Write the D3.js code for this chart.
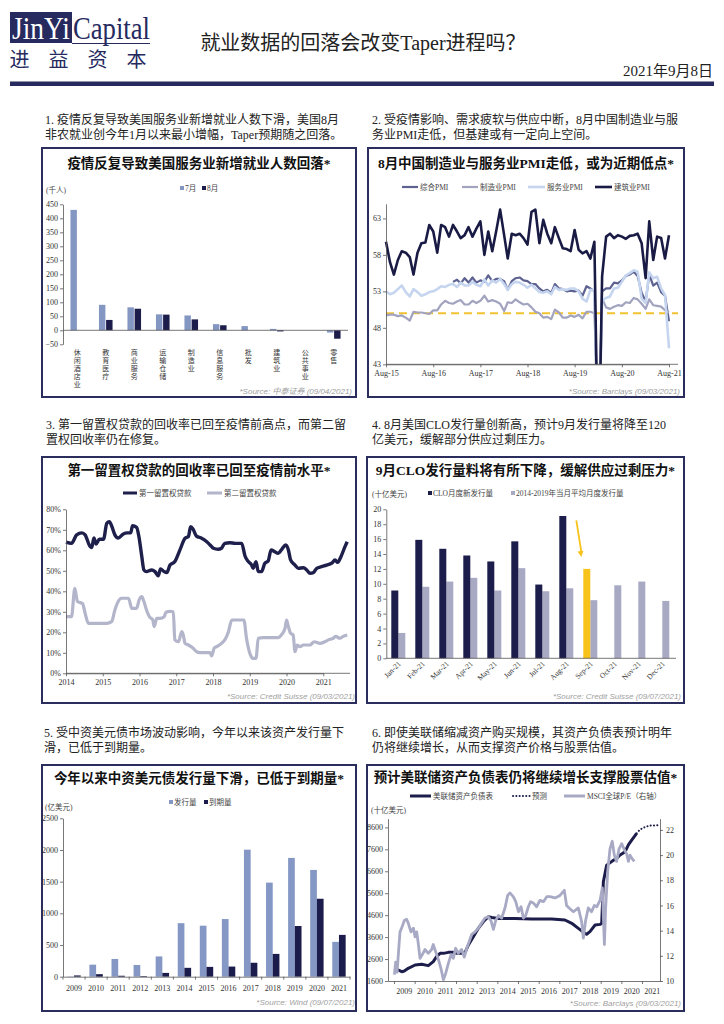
<!DOCTYPE html>
<html>
<head>
<meta charset="utf-8">
<script src="https://cdn.jsdelivr.net/npm/d3@7"></script>
<style>
  body { margin: 0; background: #fff; }
</style>
</head>
<body>
<svg id="page" width="724" height="1024"></svg>
<script>
// ---------- data ----------
// chart 1: US service jobs (thousands)
const jobCats = ['休闲酒店业', '教育医疗', '商业服务', '运输仓储', '制造业', '信息服务', '批发', '建筑业', '公共事业', '零售'];
const jobsJul = [430, 91, 82, 57, 53, 22, 15, 5, 0, -8];
const jobsAug = [0, 37, 77, 56, 39, 18, 0, -4, 0, -30];
const jobTicks = [-50, 0, 50, 100, 150, 200, 250, 300, 350, 400, 450];

// chart 2: China PMI, monthly from Aug-15 to Aug-21
const pmiComposite = [null, null, null, null, null, null, null, null, null, null, null, null, null, null, null, null, null,
  54.3, 54.6, 54.1, 54.8, 54.2, 54.9, 54.2, 54.5, 54.3, 55.2, 54.4, 54.7,
  54.7, 54.4, 53.2, 54.4, 54.8, 54.9, 54.5, 54.4, 54.0, 54.0, 53.4, 53.0,
  53.2, 52.8, 54.0, 53.4, 53.3, 53.0, 53.1, 53.0, 53.1, 52.4, 53.7, 53.4,
  53.0, 28.9, 53.0, 53.4, 53.4, 54.2, 54.1, 54.5, 55.1, 55.3, 55.7, 55.1,
  52.8, 51.6, 55.3, 53.8, 54.2, 52.9, 52.4, 48.9];
const pmiMfg = [49.7, 49.8, 49.8, 49.6, 49.7,
  49.4, 49.0, 50.2, 50.1, 50.1, 50.0, 49.9, 50.4, 50.4, 51.2, 51.7, 51.4,
  51.3, 51.6, 51.8, 51.2, 51.2, 51.7, 51.4, 51.7, 52.4, 51.6, 51.8, 51.6,
  51.3, 50.3, 51.5, 51.4, 51.9, 51.5, 51.2, 51.3, 50.8, 50.2, 50.0, 49.4,
  49.5, 49.2, 50.5, 50.1, 49.4, 49.4, 49.7, 49.5, 49.8, 49.3, 50.2, 50.2,
  50.0, 35.7, 52.0, 50.8, 50.6, 50.9, 51.1, 51.0, 51.5, 51.4, 52.1, 51.9,
  51.3, 50.6, 51.9, 51.1, 51.0, 50.9, 50.4, 50.1];
const pmiServices = [53.0, 52.6, 52.8, 53.3, 53.8,
  52.9, 52.3, 53.3, 52.9, 52.4, 52.6, 52.9, 53.0, 53.3, 53.7, 53.6, 53.9,
  54.0, 53.6, 54.2, 53.8, 53.8, 54.3, 53.9, 53.7, 54.6, 53.8, 54.5, 54.2,
  54.7, 54.0, 53.2, 54.0, 54.3, 54.2, 53.9, 53.5, 53.9, 53.4, 52.9, 52.8,
  53.0, 52.6, 53.6, 53.2, 53.3, 53.2, 53.4, 53.4, 53.0, 52.0, 51.6, 53.2,
  53.1, 29.6, 51.8, 52.1, 52.3, 53.4, 53.5, 54.3, 55.2, 55.5, 55.9, 55.7,
  52.0, 51.4, 55.6, 54.8, 55.0, 53.4, 52.5, 45.2];
const pmiConstruction = [59.8, 57.0, 55.3, 57.3, 58.5,
  58.3, 57.7, 55.3, 58.3, 59.6, 59.7, 62.1, 61.2, 58.3, 62.1, 61.8, 60.5,
  62.1, 61.2, 60.3, 60.7, 61.8, 60.5, 61.6, 62.6, 58.0, 61.2, 58.5, 61.2,
  64.2, 60.7, 57.5, 60.9, 60.7, 60.9, 60.3, 59.4, 63.9, 64.2, 59.6, 62.8,
  60.9, 59.6, 61.8, 60.3, 58.9, 58.8, 58.5, 61.4, 58.7, 58.2, 58.5, 57.5,
  59.8, 26.6, 55.1, 60.5, 60.9, 60.3, 60.7, 60.5, 60.2, 60.6, 60.7, 60.9,
  59.6, 54.8, 62.6, 57.3, 60.5, 60.3, 57.5, 60.7];
const pmiTicks = [43, 48, 53, 58, 63];

// chart 3: recovery rates (%), [year, value]
const firstLien = [[2014.00, 64.0], [2014.15, 63.4], [2014.29, 67.5], [2014.43, 68.5], [2014.52, 67.5], [2014.65, 62.0],
  [2014.70, 61.3], [2014.76, 66.0], [2014.82, 63.1], [2014.91, 65.4], [2015.02, 65.4], [2015.11, 73.2], [2015.18, 74.0],
  [2015.24, 72.0], [2015.33, 67.5], [2015.42, 66.0], [2015.56, 68.0], [2015.67, 68.5], [2015.76, 68.5], [2015.81, 72.0],
  [2015.92, 71.2], [2015.99, 66.0], [2016.06, 57.2], [2016.12, 50.4], [2016.19, 49.6], [2016.33, 50.4], [2016.42, 49.6],
  [2016.51, 47.6], [2016.57, 50.9], [2016.67, 49.6], [2016.74, 49.1], [2016.83, 52.8], [2016.96, 54.5], [2017.10, 60.2],
  [2017.24, 65.9], [2017.33, 66.7], [2017.39, 71.5], [2017.46, 70.2], [2017.55, 66.9], [2017.69, 65.9], [2017.83, 64.2],
  [2017.92, 62.6], [2018.01, 61.0], [2018.14, 60.5], [2018.23, 61.0], [2018.32, 63.4], [2018.46, 63.7], [2018.60, 63.4],
  [2018.78, 63.4], [2018.87, 57.2], [2018.96, 54.5], [2019.05, 52.8], [2019.09, 51.2], [2019.17, 54.5], [2019.23, 49.6],
  [2019.32, 49.6], [2019.41, 53.7], [2019.50, 54.8], [2019.58, 60.2], [2019.68, 59.3], [2019.77, 58.5], [2019.87, 60.5],
  [2019.98, 62.6], [2020.05, 60.2], [2020.11, 55.3], [2020.23, 52.8], [2020.32, 51.2], [2020.46, 51.5], [2020.55, 50.4],
  [2020.64, 48.8], [2020.73, 49.1], [2020.82, 51.2], [2020.95, 52.0], [2021.09, 52.8], [2021.23, 53.7], [2021.32, 55.3],
  [2021.39, 54.1], [2021.48, 56.9], [2021.59, 61.8], [2021.65, 64.2]];
const secondLien = [[2014.00, 27.6], [2014.15, 27.6], [2014.24, 41.5], [2014.31, 35.0], [2014.38, 34.5], [2014.45, 34.0],
  [2014.52, 29.3], [2014.61, 24.4], [2015.11, 24.4], [2015.24, 25.2], [2015.33, 30.9], [2015.42, 35.0], [2015.51, 36.6],
  [2015.70, 36.6], [2015.79, 31.7], [2015.92, 31.7], [2015.99, 35.8], [2016.06, 37.4], [2016.12, 35.0], [2016.19, 30.9],
  [2016.27, 27.6], [2016.36, 26.0], [2016.40, 22.8], [2016.47, 26.8], [2016.56, 26.8], [2016.67, 27.6], [2016.72, 29.8],
  [2016.83, 30.2], [2016.92, 30.0], [2016.96, 16.3], [2017.06, 15.4], [2017.15, 20.3], [2017.19, 18.7], [2017.24, 14.6],
  [2017.33, 13.8], [2017.46, 12.2], [2017.55, 10.6], [2017.64, 10.1], [2017.92, 10.1], [2017.96, 8.5], [2018.03, 12.2],
  [2018.10, 13.0], [2018.23, 14.6], [2018.32, 16.3], [2018.42, 20.3], [2018.51, 26.0], [2018.84, 26.0], [2018.91, 17.1],
  [2019.02, 8.9], [2019.08, 7.3], [2019.17, 7.3], [2019.23, 17.1], [2019.37, 17.4], [2019.77, 17.4], [2019.87, 19.0],
  [2019.96, 22.0], [2020.00, 26.0], [2020.05, 22.8], [2020.11, 19.5], [2020.18, 18.7], [2020.23, 10.6], [2020.29, 13.8],
  [2020.36, 13.0], [2020.46, 13.8], [2020.64, 13.8], [2020.75, 15.4], [2020.91, 14.6], [2021.04, 15.4], [2021.14, 16.3],
  [2021.27, 17.1], [2021.34, 18.0], [2021.45, 17.1], [2021.54, 18.0], [2021.65, 18.7]];
const lienYears = [2014, 2015, 2016, 2017, 2018, 2019, 2020, 2021];

// chart 4: CLO issuance (USD bn)
const cloMonths = ['Jan-21', 'Feb-21', 'Mar-21', 'Apr-21', 'May-21', 'Jun-21', 'Jul-21', 'Aug-21', 'Sep-21', 'Oct-21', 'Nov-21', 'Dec-21'];
const cloIssued = [9.1, 15.9, 14.7, 13.8, 13.0, 15.7, 9.9, 19.1, 12.0, null, null, null];
const cloAvg = [3.4, 9.6, 10.3, 10.8, 9.1, 12.1, 9.0, 9.4, 7.8, 9.8, 10.3, 7.7];
const cloForecastMonth = 'Sep-21';

// chart 5: Chinese USD bonds (USD 100m)
const bondYears = ['2009', '2010', '2011', '2012', '2013', '2014', '2015', '2016', '2017', '2018', '2019', '2020', '2021'];
const bondIssue = [5, 190, 280, 185, 320, 845, 805, 910, 2005, 1485, 1875, 1685, 550];
const bondMature = [20, 40, 15, 10, 60, 140, 155, 160, 220, 360, 800, 1230, 660];

// chart 6: Fed balance sheet (USD bn) and MSCI world P/E, [year, value]
const fedBS = [[2009.05, 2177], [2009.21, 2100], [2009.37, 2025], [2009.50, 2055], [2009.69, 2177], [2010.02, 2330],
  [2010.34, 2360], [2010.66, 2300], [2010.90, 2480], [2011.06, 2710], [2011.23, 2860], [2011.39, 2860], [2011.63, 2905],
  [2011.87, 2905], [2012.03, 2860], [2012.27, 2860], [2012.44, 2905], [2012.60, 3240], [2012.84, 3620], [2013.08, 4000],
  [2013.32, 4300], [2013.56, 4530], [2013.73, 4490], [2014.05, 4450], [2014.85, 4450], [2015.66, 4420], [2016.63, 4420],
  [2017.27, 4380], [2017.60, 4230], [2017.92, 4000], [2018.24, 3770], [2018.32, 3730], [2018.48, 3850], [2018.73, 4150],
  [2018.97, 4180], [2019.05, 4230], [2019.13, 6120], [2019.29, 6880], [2019.53, 7040], [2019.77, 7190], [2019.94, 7340],
  [2020.18, 7490], [2020.34, 7800], [2020.50, 8020], [2020.66, 8220], [2020.74, 8330]];
const fedForecast = [[2020.74, 8330], [2020.90, 8500], [2021.15, 8620], [2021.39, 8680], [2021.87, 8700]];
const msciPE = [[2009.02, 10.5], [2009.08, 11.5], [2009.15, 10.7], [2009.21, 12.1], [2009.29, 13.9], [2009.37, 14.2],
  [2009.50, 14.8], [2009.61, 14.9], [2009.69, 14.6], [2009.82, 13.9], [2009.94, 14.2], [2010.02, 13.5], [2010.10, 13.9],
  [2010.18, 12.9], [2010.26, 11.8], [2010.37, 12.1], [2010.50, 12.5], [2010.66, 12.2], [2010.82, 12.5], [2010.90, 12.9],
  [2011.02, 12.3], [2011.15, 11.7], [2011.27, 11.0], [2011.39, 10.1], [2011.50, 10.6], [2011.63, 11.4], [2011.76, 12.1],
  [2011.87, 11.8], [2011.98, 12.6], [2012.11, 12.2], [2012.27, 12.5], [2012.40, 11.9], [2012.52, 12.6], [2012.63, 13.1],
  [2012.76, 13.7], [2012.92, 13.9], [2013.08, 14.2], [2013.24, 14.6], [2013.40, 15.0], [2013.56, 15.1], [2013.69, 14.8],
  [2013.81, 14.1], [2013.92, 14.8], [2014.05, 15.2], [2014.21, 15.0], [2014.37, 15.8], [2014.50, 16.8], [2014.61, 17.0],
  [2014.77, 16.7], [2014.89, 16.3], [2015.02, 15.5], [2015.15, 15.9], [2015.26, 15.0], [2015.37, 15.2], [2015.50, 15.9],
  [2015.61, 16.3], [2015.74, 16.2], [2015.90, 15.9], [2016.06, 16.4], [2016.23, 16.3], [2016.39, 16.7], [2016.55, 16.7],
  [2016.79, 16.6], [2017.03, 16.8], [2017.24, 17.2], [2017.35, 16.0], [2017.47, 15.8], [2017.68, 15.5], [2017.92, 15.8],
  [2018.08, 14.7], [2018.16, 13.4], [2018.27, 14.8], [2018.40, 15.8], [2018.56, 15.5], [2018.69, 16.0], [2018.81, 15.9],
  [2018.97, 16.4], [2019.08, 17.4], [2019.18, 12.9], [2019.24, 15.8], [2019.34, 18.7], [2019.45, 20.5], [2019.56, 21.1],
  [2019.66, 20.0], [2019.77, 19.5], [2019.89, 20.5], [2020.02, 20.9], [2020.15, 20.4], [2020.26, 20.1], [2020.34, 19.5],
  [2020.42, 20.0], [2020.53, 19.7], [2020.63, 19.5]];
const fedTicks = [1600, 2600, 3600, 4600, 5600, 6600, 7600, 8600];
const peTicks = [10, 12, 14, 16, 18, 20, 22];
const fedYears = d3.range(2009, 2022);

// ---------- drawing ----------
const SERIF = '"Liberation Serif","Noto Sans CJK SC",serif';
const SANS = '"Liberation Sans","Noto Sans CJK SC",sans-serif';
const NAVY = '#262a5f';
const svg = d3.select('#page');
const plain = d3.format('d');

function label(x, y, s, size, opt = {}) {
  return svg.append('text')
    .attr('x', x).attr('y', y)
    .attr('font-size', size)
    .attr('dominant-baseline', 'central')
    .attr('text-anchor', opt.anchor || 'start')
    .attr('fill', opt.fill || '#222')
    .attr('font-weight', opt.weight || 400)
    .attr('font-style', opt.italic ? 'italic' : 'normal')
    .attr('font-family', opt.family || SERIF)
    .text(s);
}

function panel(x0, y0, x1, y1, title, ty) {
  svg.append('rect').attr('x', x0).attr('y', y0).attr('width', x1 - x0).attr('height', y1 - y0)
    .attr('fill', 'none').attr('stroke', '#2b2d5c').attr('stroke-width', 2);
  label((x0 + x1) / 2, ty, title, 13.5, { anchor: 'middle', weight: 700, fill: '#111' });
}

function source(x, y, s) {
  label(x, y, s, 8, { anchor: 'end', fill: '#a0a0a0', italic: true, family: SANS });
}

function styleAxis(g) {
  g.attr('font-family', SERIF);
  g.selectAll('path, line').attr('stroke', '#555').attr('stroke-width', 0.8);
  g.selectAll('text').attr('font-size', 8).attr('fill', '#333');
}

function legendBox(x, y, color, text) {
  svg.append('rect').attr('x', x).attr('y', y - 2).attr('width', 4).attr('height', 4).attr('fill', color);
  label(x + 5, y, text, 7.5, { fill: '#444' });
}

function legendLine(x0, x1, y, color, text, w, dash) {
  svg.append('line').attr('x1', x0).attr('x2', x1).attr('y1', y).attr('y2', y)
    .attr('stroke', color).attr('stroke-width', w || 2.5)
    .attr('stroke-dasharray', dash || null).attr('stroke-linecap', dash ? 'round' : 'butt');
  label(x1 + 2, y, text, 7.5, { fill: '#444' });
}

// header
svg.append('rect').attr('x', 10).attr('y', 12).attr('width', 62).attr('height', 31).attr('fill', NAVY);
svg.append('text').attr('x', 12).attr('y', 39).attr('font-size', 31).attr('font-family', SERIF)
  .attr('fill', '#fff').attr('textLength', 58).attr('lengthAdjust', 'spacingAndGlyphs').text('JinYi');
svg.append('text').attr('x', 73).attr('y', 39).attr('font-size', 31).attr('font-family', SERIF)
  .attr('fill', NAVY).attr('textLength', 77).attr('lengthAdjust', 'spacingAndGlyphs').text('Capital');
svg.append('line').attr('x1', 72).attr('x2', 150).attr('y1', 43.5).attr('y2', 43.5).attr('stroke', NAVY).attr('stroke-width', 1);
['进', '益', '资', '本'].forEach((c, i) => label(19.5 + i * 39, 60, c, 20, { anchor: 'middle', fill: NAVY }));
label(363, 43, '就业数据的回落会改变Taper进程吗？', 20, { anchor: 'middle', fill: '#222' });
label(713, 71, '2021年9月8日', 15, { anchor: 'end', fill: '#222' });
svg.append('rect').attr('x', 10).attr('y', 81.5).attr('width', 704).attr('height', 4.5).attr('fill', NAVY);

// paragraphs
const paras = [
  [45, 120, ['1. 疫情反复导致美国服务业新增就业人数下滑，美国8月', '非农就业创今年1月以来最小增幅，Taper预期随之回落。']],
  [372, 120, ['2. 受疫情影响、需求疲软与供应中断，8月中国制造业与服', '务业PMI走低，但基建或有一定向上空间。']],
  [46, 425, ['3. 第一留置权贷款的回收率已回至疫情前高点，而第二留', '置权回收率仍在修复。']],
  [372, 425, ['4. 8月美国CLO发行量创新高，预计9月发行量将降至120', '亿美元，缓解部分供应过剩压力。']],
  [44, 733, ['5. 受中资美元债市场波动影响，今年以来该资产发行量下', '滑，已低于到期量。']],
  [372, 733, ['6. 即使美联储缩减资产购买规模，其资产负债表预计明年', '仍将继续增长，从而支撑资产价格与股票估值。']]
];
paras.forEach(([x, y, lines]) => lines.forEach((t, i) => label(x, y + i * 15, t, 12, { fill: '#222' })));

// ---------- chart 1 ----------
panel(42, 148, 356, 397, '疫情反复导致美国服务业新增就业人数回落*', 163);
{
  const x = d3.scaleBand().domain(jobCats).range([63, 348]);
  const xs = d3.scaleBand().domain(['7月', '8月']).range([-6.8, 6.8]).paddingInner(0.1);
  const y = d3.scaleLinear().domain([-50, 450]).range([344.3, 204.3]);
  const series = [['7月', jobsJul, '#8497c3'], ['8月', jobsAug, '#1c1d4a']];
  series.forEach(([name, vals, color]) => {
    svg.append('g').selectAll('rect').data(vals).join('rect')
      .attr('x', (d, i) => x(jobCats[i]) + x.bandwidth() / 2 + xs(name))
      .attr('width', xs.bandwidth())
      .attr('y', d => Math.min(y(d), y(0)))
      .attr('height', d => Math.abs(y(d) - y(0)))
      .attr('fill', color);
  });
  const ya = svg.append('g').attr('transform', 'translate(63,0)')
    .call(d3.axisLeft(y).tickValues(jobTicks).tickSize(3).tickPadding(2).tickSizeOuter(0));
  styleAxis(ya);
  svg.append('line').attr('x1', 63).attr('x2', 348).attr('y1', y(0)).attr('y2', y(0)).attr('stroke', '#555').attr('stroke-width', 0.8);
  jobCats.forEach(c => {
    [...c].forEach((ch, k) => label(x(c) + x.bandwidth() / 2, 353 + k * 8, ch, 7, { anchor: 'middle', fill: '#333' }));
  });
  label(46, 190, '(千人)', 7.5, { fill: '#444' });
  legendBox(180, 188, '#8497c3', '7月');
  legendBox(202, 188, '#1c1d4a', '8月');
  source(352, 391, '*Source: 中泰证券 (09/04/2021)');
}

// ---------- chart 2 ----------
panel(368, 148, 684, 397, '8月中国制造业与服务业PMI走低，或为近期低点*', 163);
{
  const monthDate = i => new Date(2015, 7 + i, 1);
  const x = d3.scaleTime().domain([monthDate(0), monthDate(72)]).range([386, 669]);
  const y = d3.scaleLinear().domain([43, 65]).range([364.3, 203.8]);
  svg.append('defs').append('clipPath').attr('id', 'pmiClip')
    .append('rect').attr('x', 380).attr('y', 200).attr('width', 300).attr('height', 164.3);
  const line = d3.line().defined(d => d != null).x((d, i) => x(monthDate(i))).y(d => y(d));
  const g = svg.append('g').attr('clip-path', 'url(#pmiClip)');
  g.append('line').attr('x1', 386).attr('x2', 678).attr('y1', y(50)).attr('y2', y(50))
    .attr('stroke', '#f1c232').attr('stroke-width', 2.2).attr('stroke-dasharray', '8,5');
  const series = [
    [pmiComposite, '#5d6290', 2.2],
    [pmiMfg, '#a1a3bf', 2.2],
    [pmiServices, '#c6d5ef', 2.6],
    [pmiConstruction, '#1a1b45', 2.6]
  ];
  series.forEach(([vals, color, w]) => {
    g.append('path').datum(vals).attr('d', line).attr('fill', 'none')
      .attr('stroke', color).attr('stroke-width', w).attr('stroke-linejoin', 'round');
  });
  const ya = svg.append('g').attr('transform', 'translate(386,0)')
    .call(d3.axisLeft(y).tickValues(pmiTicks).tickSize(3).tickPadding(2).tickSizeOuter(0));
  styleAxis(ya);
  const xa = svg.append('g').attr('transform', `translate(0,${y(43)})`)
    .call(d3.axisBottom(x).tickValues(d3.range(0, 7).map(k => new Date(2015 + k, 7, 1)))
      .tickFormat(d3.timeFormat('%b-%y')).tickSize(3).tickPadding(3).tickSizeOuter(0));
  styleAxis(xa);
  svg.append('line').attr('x1', 386).attr('x2', 678).attr('y1', y(43)).attr('y2', y(43)).attr('stroke', '#555').attr('stroke-width', 0.8);
  legendLine(402, 418, 187, '#5d6290', '综合PMI', 2.2);
  legendLine(462, 478, 187, '#a1a3bf', '制造业PMI', 2.2);
  legendLine(528, 545, 187, '#c6d5ef', '服务业PMI', 2.6);
  legendLine(595, 612, 187, '#1a1b45', '建筑业PMI', 2.6);
  source(680, 391, '*Source: Barclays (09/03/2021)');
}

// ---------- chart 3 ----------
panel(42, 457, 356, 703, '第一留置权贷款的回收率已回至疫情前水平*', 470);
{
  const x = d3.scaleLinear().domain([2014, 2021]).range([66, 323.3]);
  const y = d3.scaleLinear().domain([0, 0.8]).range([673.3, 509.3]);
  const line = d3.line().x(d => x(d[0])).y(d => y(d[1] / 100)).curve(d3.curveMonotoneX);
  svg.append('path').datum(secondLien).attr('d', line).attr('fill', 'none')
    .attr('stroke', '#b3b5cb').attr('stroke-width', 3.2).attr('stroke-linejoin', 'round');
  svg.append('path').datum(firstLien).attr('d', line).attr('fill', 'none')
    .attr('stroke', '#1e1f4b').attr('stroke-width', 3.4).attr('stroke-linejoin', 'round');
  const ya = svg.append('g').attr('transform', 'translate(66,0)')
    .call(d3.axisLeft(y).ticks(8).tickFormat(d3.format('.0%')).tickSize(3).tickPadding(2).tickSizeOuter(0));
  styleAxis(ya);
  const xa = svg.append('g').attr('transform', `translate(0,${y(0)})`)
    .call(d3.axisBottom(x).tickValues(lienYears).tickFormat(plain).tickSize(3).tickPadding(3).tickSizeOuter(0));
  styleAxis(xa);
  svg.append('line').attr('x1', 66).attr('x2', 350).attr('y1', y(0)).attr('y2', y(0)).attr('stroke', '#555').attr('stroke-width', 0.8);
  legendLine(123, 137, 493, '#1e1f4b', '第一留置权贷款', 3);
  legendLine(207, 222, 493, '#b3b5cb', '第二留置权贷款', 3);
  source(355, 696, '*Source: Credit Suisse (09/03/2021)');
}

// ---------- chart 4 ----------
panel(367, 457, 684, 703, '9月CLO发行量料将有所下降，缓解供应过剩压力*', 470);
{
  const x = d3.scaleBand().domain(cloMonths).range([386.3, 674.3]);
  const xs = d3.scaleBand().domain(['clo', 'avg']).range([-7, 7]);
  const y = d3.scaleLinear().domain([0, 20]).range([658.3, 509.3]);
  svg.append('g').selectAll('rect').data(cloAvg).join('rect')
    .attr('x', (d, i) => x(cloMonths[i]) + x.bandwidth() / 2 + xs('avg'))
    .attr('width', xs.bandwidth())
    .attr('y', d => y(d)).attr('height', d => y(0) - y(d))
    .attr('fill', '#a8a9c3');
  svg.append('g').selectAll('rect').data(cloIssued.map((v, i) => [cloMonths[i], v]).filter(d => d[1] != null)).join('rect')
    .attr('x', d => x(d[0]) + x.bandwidth() / 2 + xs('clo'))
    .attr('width', xs.bandwidth())
    .attr('y', d => y(d[1])).attr('height', d => y(0) - y(d[1]))
    .attr('fill', d => d[0] === cloForecastMonth ? '#f7c31b' : '#1c1d4a');
  const ya = svg.append('g').attr('transform', 'translate(386.3,0)')
    .call(d3.axisLeft(y).tickValues(d3.range(0, 21, 2)).tickSize(3).tickPadding(2).tickSizeOuter(0));
  styleAxis(ya);
  svg.append('line').attr('x1', 386.3).attr('x2', 676).attr('y1', y(0)).attr('y2', y(0)).attr('stroke', '#555').attr('stroke-width', 0.8);
  cloMonths.forEach(m => {
    const cx = x(m) + x.bandwidth() / 2;
    svg.append('text').attr('transform', `translate(${cx + 3},${y(0) + 6}) rotate(-45)`)
      .attr('text-anchor', 'end').attr('font-size', 7.5).attr('font-family', SERIF).attr('fill', '#333').text(m);
  });
  // arrow from Aug to Sep
  const ax0 = x('Aug-21') + x.bandwidth() - 2, ay0 = y(18.5);
  const ax1 = x('Sep-21') + 3, ay1 = y(13.6);
  svg.append('line').attr('x1', ax0).attr('y1', ay0).attr('x2', ax1).attr('y2', ay1 - 5)
    .attr('stroke', '#f7c31b').attr('stroke-width', 1.8);
  const ang = Math.atan2(ay1 - ay0, ax1 - ax0);
  const hp = [[ax1, ay1],
    [ax1 - 6 * Math.cos(ang) + 3 * Math.sin(ang), ay1 - 6 * Math.sin(ang) - 3 * Math.cos(ang)],
    [ax1 - 6 * Math.cos(ang) - 3 * Math.sin(ang), ay1 - 6 * Math.sin(ang) + 3 * Math.cos(ang)]];
  svg.append('polygon').attr('points', hp.map(p => p.join(',')).join(' ')).attr('fill', '#f7c31b');
  label(372, 494, '(十亿美元)', 7.5, { fill: '#444' });
  legendBox(428, 493, '#1c1d4a', 'CLO月度新发行量');
  legendBox(511, 493, '#a8a9c3', '2014-2019年当月平均月度发行量');
  source(681, 696, '*Source: Credit Suisse (09/07/2021)');
}

// ---------- chart 5 ----------
panel(42, 765, 356, 1011, '今年以来中资美元债发行量下滑，已低于到期量*', 778);
{
  const x = d3.scaleBand().domain(bondYears).range([63, 350]);
  const xs = d3.scaleBand().domain(['issue', 'mature']).range([-6.7, 6.7]);
  const y = d3.scaleLinear().domain([0, 2500]).range([976.7, 818.3]);
  const series = [['issue', bondIssue, '#8598c5'], ['mature', bondMature, '#1b1c4b']];
  series.forEach(([name, vals, color]) => {
    svg.append('g').selectAll('rect').data(vals).join('rect')
      .attr('x', (d, i) => x(bondYears[i]) + x.bandwidth() / 2 + xs(name))
      .attr('width', xs.bandwidth())
      .attr('y', d => y(d)).attr('height', d => y(0) - y(d))
      .attr('fill', color);
  });
  const ya = svg.append('g').attr('transform', 'translate(63,0)')
    .call(d3.axisLeft(y).tickValues(d3.range(0, 2501, 500)).tickFormat(plain).tickSize(3).tickPadding(2).tickSizeOuter(0));
  styleAxis(ya);
  const xa = svg.append('g').attr('transform', `translate(0,${y(0)})`)
    .call(d3.axisBottom(x).tickSize(0).tickPadding(9).tickSizeOuter(0));
  styleAxis(xa);
  bondYears.concat(['end']).forEach((c, i) => {
    const bx = 63 + i * x.bandwidth();
    svg.append('line').attr('x1', bx).attr('x2', bx).attr('y1', y(0)).attr('y2', y(0) + 3).attr('stroke', '#555').attr('stroke-width', 0.8);
  });
  label(45, 807, '(亿美元)', 7.5, { fill: '#444' });
  legendBox(169, 802, '#8598c5', '发行量');
  legendBox(204, 802, '#1b1c4b', '到期量');
  source(355, 1002, '*Source: Wind (09/07/2021)');
}

// ---------- chart 6 ----------
panel(367, 765, 684, 1011, '预计美联储资产负债表仍将继续增长支撑股票估值*', 777);
{
  const x = d3.scaleLinear().domain([2008.71, 2021.87]).range([388, 660]);
  const yL = d3.scaleLinear().domain([1600, 9000]).range([981, 818.6]);
  const yR = d3.scaleLinear().domain([10, 22.9]).range([981, 818.6]);
  const lineL = d3.line().x(d => x(d[0])).y(d => yL(d[1]));
  const lineR = d3.line().x(d => x(d[0])).y(d => yR(d[1]));
  svg.append('path').datum(fedBS).attr('d', lineL).attr('fill', 'none')
    .attr('stroke', '#1c1d4a').attr('stroke-width', 3).attr('stroke-linejoin', 'round');
  svg.append('path').datum(fedForecast).attr('d', lineL).attr('fill', 'none')
    .attr('stroke', '#1c1d4a').attr('stroke-width', 2).attr('stroke-dasharray', '0.1,3.2').attr('stroke-linecap', 'round');
  svg.append('path').datum(msciPE).attr('d', lineR).attr('fill', 'none')
    .attr('stroke', '#a8aac5').attr('stroke-width', 2.8).attr('stroke-linejoin', 'round');
  const ya = svg.append('g').attr('transform', 'translate(388,0)')
    .call(d3.axisLeft(yL).tickValues(fedTicks).tickFormat(plain).tickSize(3).tickPadding(2).tickSizeOuter(0));
  styleAxis(ya);
  const yb = svg.append('g').attr('transform', 'translate(660,0)')
    .call(d3.axisRight(yR).tickValues(peTicks).tickSize(3).tickPadding(3).tickSizeOuter(0));
  styleAxis(yb);
  const xa = svg.append('g').attr('transform', 'translate(0,981)')
    .call(d3.axisBottom(x).tickValues(fedYears).tickFormat('').tickSize(3).tickSizeOuter(0));
  styleAxis(xa);
  fedYears.forEach(yr => label(x(yr + 0.5), 991, String(yr), 8, { anchor: 'middle', fill: '#333' }));
  label(371, 810, '(十亿美元)', 7.5, { fill: '#444' });
  legendLine(410, 431, 796, '#1c1d4a', '美联储资产负债表', 3);
  legendLine(513, 530, 796, '#1c1d4a', '预测', 2, '0.1,3.2');
  legendLine(564, 585, 796, '#a8aac5', 'MSCI全球P/E（右轴）', 3);
  source(681, 1003, '*Source: Barclays (09/03/2021)');
}
</script>
</body>
</html>
